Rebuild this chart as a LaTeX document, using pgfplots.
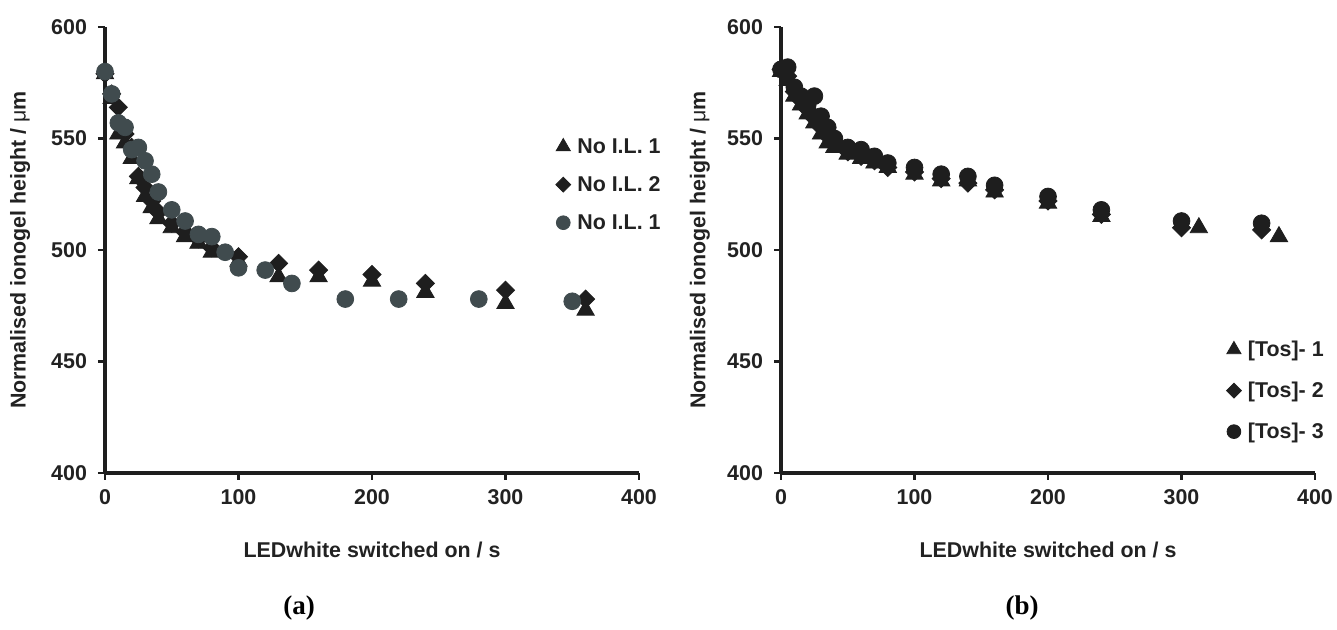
\documentclass[border=0pt]{standalone}
\usepackage{fontspec}
\setmainfont{Liberation Sans}
\newfontfamily\serifbf{Liberation Serif}
\usepackage{pgfplots}
\pgfplotsset{compat=1.18}

\definecolor{mk}{HTML}{1E1E1E}
\definecolor{grey}{HTML}{404B4E}
\definecolor{txt}{HTML}{222222}

\pgfplotsset{
  panel/.style={
    scale only axis, width=267pt, height=223pt,
    xmin=0, xmax=400, ymin=400, ymax=600,
    xtick={0,100,...,400}, ytick={400,450,...,600},
    axis lines*=left, clip=false,
    axis line style={mk, line width=1.6pt},
    tick style={mk, line width=1.4pt}, tick align=outside,
    major tick length=3.5pt,
    /pgf/number format/assume math mode=true,
    tick label style={font=\fontsize{10.7}{12}\selectfont\bfseries, text=txt},
    yticklabel style={xshift=-2pt},
    xticklabel style={yshift=-1pt},
    label style={font=\fontsize{10.7}{12}\selectfont\bfseries, text=txt},
    xlabel={LEDwhite switched on / s},
    xlabel style={at={(axis description cs:0.5,0)}, anchor=center, yshift=-38.5pt},
    ylabel={Normalised ionogel height / {\mdseries μ}m},
    legend cell align=left,
    legend style={draw=none, fill=none, anchor=north west,
      font=\fontsize{10.7}{12}\selectfont\bfseries, text=txt,
      nodes={inner sep=0pt, text height=8.5pt, text depth=2pt},
      row sep=8.5pt},
    legend image code/.code={\path (-0.22cm,0) (0.24cm,0);
      \draw[##1, every mark/.append style={scale=0.82}] plot coordinates {(0cm,0cm)};},
  },
  tri/.style={only marks, mark=triangle*, mark size=5pt, mark options={draw=mk, fill=mk}},
  dia/.style={only marks, mark=square*, mark size=3.2pt, mark options={rotate=45, draw=mk, fill=mk}},
  circ/.style={only marks, mark=*, mark size=4.2pt, mark options={draw=#1, fill=#1}},
}

\begin{document}
\begin{tikzpicture}
\useasboundingbox (-52.5pt,-78.5pt) rectangle (616pt,236.5pt);

\begin{axis}[panel, at={(0,0)}, anchor=south west,
  ylabel style={at={(axis description cs:-0.159,0.5)}, anchor=center},
  legend style={at={(axis description cs:0.822,0.765)}}]
\addplot[tri] coordinates {(0,579) (5,568) (10,552) (15,548) (20,541) (25,532) (30,524) (35,519) (40,514) (50,510) (60,506) (70,503) (80,499) (100,495) (130,488) (160,488) (200,486) (240,481) (300,476) (360,473)};
\addplot[dia] coordinates {(0,579) (5,570) (10,564) (15,552) (20,546) (25,533) (30,528) (35,522) (40,517) (50,512) (60,508) (70,505) (80,501) (100,497) (130,494) (160,491) (200,489) (240,485) (300,482) (360,478)};
\addplot[circ=grey] coordinates {(0,580) (5,570) (10,557) (15,555) (20,545) (25,546) (30,540) (35,534) (40,526) (50,518) (60,513) (70,507) (80,506) (90,499) (100,492) (120,491) (140,485) (180,478) (220,478) (280,478) (350,477)};
\legend{No I.L. 1, No I.L. 2, No I.L. 1}
\end{axis}

\begin{axis}[panel, at={(338pt,0)}, anchor=south west,
  ylabel style={at={(axis description cs:-0.152,0.5)}, anchor=center},
  legend style={at={(axis description cs:0.812,0.31)}, row sep=10pt}]
\addplot[tri] coordinates {(0,580) (5,576) (10,569) (15,565) (20,561) (25,557) (30,552) (35,548) (40,546) (50,543) (60,541) (70,539) (80,537) (100,534) (120,531) (140,531) (160,526) (200,521) (240,515) (313,510) (373,506)};
\addplot[dia] coordinates {(0,581) (5,578) (10,571) (15,567) (20,563) (25,559) (30,555) (35,551) (40,548) (50,544) (60,542) (70,540) (80,537) (100,535) (120,532) (140,530) (160,527) (200,522) (240,516) (300,510) (360,509)};
\addplot[circ=mk] coordinates {(0,581) (5,582) (10,573) (15,569) (20,565) (25,569) (30,560) (35,555) (40,550) (50,546) (60,545) (70,542) (80,539) (100,537) (120,534) (140,533) (160,529) (200,524) (240,518) (300,513) (360,512)};
\legend{{\relax[Tos]- 1}, {\relax[Tos]- 2}, {\relax[Tos]- 3}}
\end{axis}

\node[font=\fontsize{13.5}{15}\selectfont\serifbf\bfseries, text=black] at (97pt,-67.5pt) {(a)};
\node[font=\fontsize{13.5}{15}\selectfont\serifbf\bfseries, text=black] at (458.5pt,-67.5pt) {(b)};
\end{tikzpicture}
\end{document}
